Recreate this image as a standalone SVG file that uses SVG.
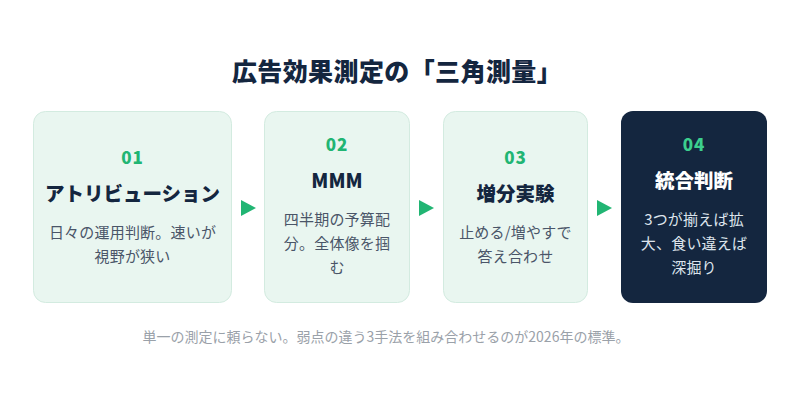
<svg xmlns="http://www.w3.org/2000/svg" width="800" height="400" viewBox="0 0 800 400">
<style>
.jp{font-family:"Noto Sans CJK JP","Noto Sans",sans-serif}
.card{fill:#e9f6f0;stroke:#d3ebe0;stroke-width:1}
.dark{fill:#14263f}
.num{font-size:17px;font-weight:900;fill:#21b573;text-anchor:middle;letter-spacing:1px}
.ttl{font-size:19.5px;font-weight:900;fill:#14263f;text-anchor:middle}
.desc{font-size:15px;fill:#4a5568;text-anchor:middle;letter-spacing:0.2px}
.arrow{fill:#21b573}
</style>
<rect width="800" height="400" fill="#ffffff"/>
<text class="jp" x="397" y="81" font-size="25" font-weight="900" fill="#14263f" text-anchor="middle" letter-spacing="0.4">広告効果測定の「三角測量」</text>
<g id="node1">
<rect class="card" x="33.5" y="111.5" width="198" height="191" rx="12"/>
<text class="jp num" x="132.5" y="164">01</text>
<text class="jp ttl" x="132.5" y="201">アトリビューション</text>
<text class="jp desc" x="132.5" y="238">日々の運用判断。速いが</text>
<text class="jp desc" x="132.5" y="262">視野が狭い</text>
</g>
<g id="node2">
<rect class="card" x="264.5" y="111.5" width="145" height="191" rx="12"/>
<text class="jp num" x="337" y="151">02</text>
<text class="jp ttl" x="337" y="188">MMM</text>
<text class="jp desc" x="337" y="225">四半期の予算配</text>
<text class="jp desc" x="337" y="249">分。全体像を掴</text>
<text class="jp desc" x="337" y="273">む</text>
</g>
<g id="node3">
<rect class="card" x="443.5" y="111.5" width="144" height="191" rx="12"/>
<text class="jp num" x="515.5" y="164">03</text>
<text class="jp ttl" x="515.5" y="201">増分実験</text>
<text class="jp desc" x="515.5" y="238">止める/増やすで</text>
<text class="jp desc" x="515.5" y="262">答え合わせ</text>
</g>
<g id="node4">
<rect class="dark" x="621" y="111" width="146" height="192" rx="12"/>
<text class="jp num" x="694" y="151" style="fill:#3ccf8e">04</text>
<text class="jp ttl" x="694" y="188" style="fill:#ffffff">統合判断</text>
<text class="jp desc" x="694" y="225" style="fill:#dde4ec">3つが揃えば拡</text>
<text class="jp desc" x="694" y="249" style="fill:#dde4ec">大、食い違えば</text>
<text class="jp desc" x="694" y="273" style="fill:#dde4ec">深掘り</text>
</g>
<g id="connectors">
<polygon class="arrow" points="241,200 256,208 241,216"/>
<polygon class="arrow" points="419,200 434,208 419,216"/>
<polygon class="arrow" points="597,200 612,208 597,216"/>
</g>
<text class="jp" x="386" y="342" font-size="14" fill="#9aa1a9" text-anchor="middle">単一の測定に頼らない。弱点の違う3手法を組み合わせるのが2026年の標準。</text>
</svg>
